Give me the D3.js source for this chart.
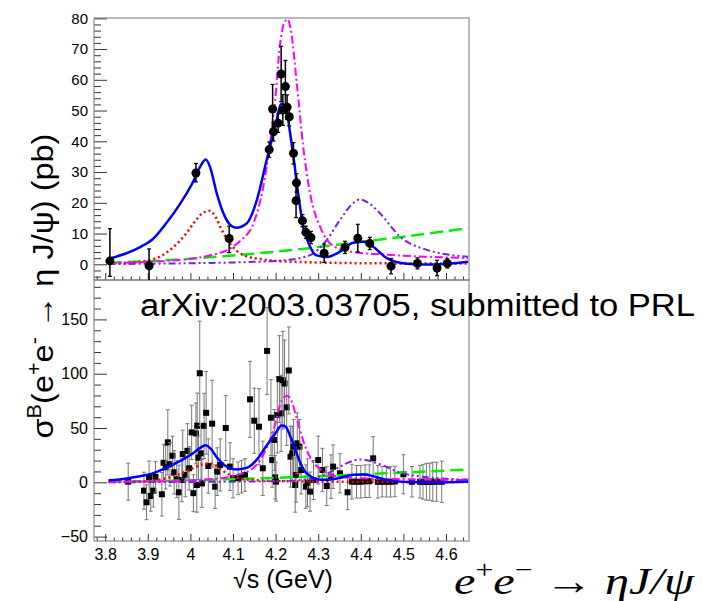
<!DOCTYPE html>
<html>
<head>
<meta charset="utf-8">
<script src="https://cdn.jsdelivr.net/npm/d3@7"></script>
<style>
body { margin: 0; background: #fff; }
text { font-family: "Liberation Sans", Arial, Helvetica, sans-serif; fill: #000; }
</style>
</head>
<body>
<script>
// Top panel: high-luminosity points [sqrt(s), sigma, errLow, errHigh]
const topPoints = [
[3.811, 1.1, 5.0, 10.5], [3.903, -0.5, 5.8, 5.5], [4.013, 29.7, 2.9, 3.1], [4.091, 8.4, 4.6, 4.0],
[4.185, 37.3, 2.5, 2.5], [4.193, 50.5, 8.0, 8.0], [4.195, 43.1, 3.0, 3.0], [4.206, 45.9, 3.0, 3.0],
[4.213, 61.9, 9.0, 9.0], [4.217, 50.2, 5.0, 5.0], [4.223, 57.8, 8.5, 8.5], [4.227, 51.1, 4.0, 4.0],
[4.232, 48.0, 3.0, 3.0], [4.242, 36.1, 3.5, 3.5], [4.249, 26.5, 3.0, 3.0], [4.248, 20.7, 5.5, 5.5],
[4.263, 14.2, 2.0, 2.0], [4.271, 10.4, 2.0, 2.0], [4.283, 8.7, 2.0, 2.0], [4.314, 3.6, 3.0, 3.0],
[4.363, 5.5, 2.0, 2.0], [4.393, 8.5, 4.5, 4.5], [4.421, 6.8, 2.0, 2.0], [4.471, -0.6, 2.5, 2.5],
[4.533, 0.3, 1.8, 1.8], [4.579, -1.2, 2.5, 2.5], [4.603, 0.3, 1.5, 1.5]
];

// Bottom panel: scan points [sqrt(s), sigma, err]
const scanPoints = [
[3.854, 0.6, 17], [3.891, -7.7, 17], [3.897, -18.4, 16], [3.903, 4.6, 15], [3.907, -12.6, 14],
[3.913, -7.7, 15], [3.918, 5.0, 14], [3.933, -11.0, 20], [3.937, 18.0, 17], [3.942, 13.8, 20],
[3.947, 36.8, 30], [3.952, 16.6, 20], [3.958, 24.5, 18], [3.962, 9.2, 20], [3.968, 2.8, 17],
[3.973, -9.2, 25], [3.980, 2.1, 20], [3.982, 26.0, 22], [3.988, 6.7, 20], [3.993, 29.0, 25],
[3.997, 12.9, 20], [4.003, 46.0, 25], [4.007, -10.0, 17], [4.013, 45.0, 28], [4.015, -2.5, 25],
[4.016, 52.1, 30], [4.019, 22.7, 20], [4.022, 100.4, 48], [4.025, 26.7, 25], [4.027, -1.0, 22],
[4.032, 52.0, 30], [4.037, 64.0, 38], [4.042, 15.0, 25], [4.051, 54.0, 40], [4.058, -4.0, 20],
[4.063, 9.8, 22], [4.070, 16.0, 24], [4.083, 50.0, 30], [4.093, 14.4, 22], [4.100, 3.7, 18],
[4.112, 3.7, 15], [4.120, 5.2, 15], [4.128, 6.7, 15], [4.140, 76.4, 35], [4.150, 56.7, 30],
[4.161, 51.2, 35], [4.170, 12.9, 25], [4.180, 121.0, 40], [4.189, 59.5, 35], [4.192, 20.5, 25],
[4.197, 39.0, 28], [4.199, 4.6, 20], [4.201, 0.6, 18], [4.204, 62.0, 35], [4.209, 95.0, 40],
[4.213, 63.5, 35], [4.217, 94.0, 45], [4.221, 91.0, 40], [4.226, 69.0, 35], [4.231, 103.0, 40],
[4.235, 23.6, 28], [4.239, 26.7, 25], [4.242, 32.8, 25], [4.246, -2.5, 25], [4.248, 6.7, 25],
[4.251, 35.9, 28], [4.256, 32.8, 25], [4.260, 11.3, 22], [4.271, -4.0, 20], [4.275, -0.4, 22],
[4.281, -8.6, 18], [4.289, 2.1, 18], [4.300, 20.5, 22], [4.310, 11.3, 20], [4.320, -3.4, 18],
[4.330, 5.2, 20], [4.335, 14.4, 20], [4.351, 8.3, 18], [4.369, -9.2, 16], [4.379, 0.6, 16],
[4.390, 0.5, 15], [4.400, 0.5, 15], [4.410, 1.0, 15], [4.420, 1.0, 15], [4.429, 22.1, 20],
[4.440, 0.5, 15], [4.450, 0.5, 14], [4.460, 0.5, 14], [4.470, 0.5, 14], [4.480, 0.8, 14],
[4.500, 7.4, 18], [4.520, 0.5, 14], [4.539, 0.5, 15], [4.546, 0.5, 16], [4.554, 0.5, 17],
[4.562, 0.5, 17], [4.569, 0.5, 18], [4.578, 0.5, 18], [4.590, 0.5, 19]
];

// Fit curves [sqrt(s), sigma]
const totalFit = [
[3.808, 1.8], [3.850, 3.6], [3.882, 5.6], [3.910, 8.0], [3.944, 13.5], [3.975, 19.5], [4.007, 27.0],
[4.022, 31.5], [4.036, 34.1], [4.046, 31.7], [4.062, 23.0], [4.081, 15.5], [4.095, 12.6], [4.107, 11.9],
[4.132, 13.3], [4.156, 20.9], [4.179, 33.9], [4.199, 44.7], [4.214, 52.2], [4.224, 51.0], [4.234, 42.7],
[4.243, 33.9], [4.253, 23.0], [4.265, 12.2], [4.281, 5.7], [4.296, 2.9], [4.320, 2.4], [4.351, 4.1],
[4.382, 7.0], [4.406, 7.3], [4.429, 5.7], [4.461, 2.0], [4.508, 0.2], [4.570, -0.1], [4.652, 0.8]
];
const bw4040 = [
[3.808, 0.3], [3.850, 0.5], [3.900, 1.2], [3.930, 2.6], [3.960, 5.6], [3.990, 10.0], [4.010, 13.8],
[4.030, 16.8], [4.046, 17.4], [4.060, 15.2], [4.070, 12.2], [4.093, 6.8], [4.124, 3.0], [4.160, 1.8],
[4.200, 1.1], [4.257, 0.75], [4.350, 0.45], [4.500, 0.3], [4.652, 0.3]
];
const bw4220 = [
[3.808, 0.3], [3.900, 0.8], [4.000, 1.8], [4.050, 3.0], [4.085, 4.5], [4.116, 7.5], [4.148, 13.3],
[4.171, 25.2], [4.187, 39.4], [4.199, 53.4], [4.210, 71.0], [4.220, 78.5], [4.228, 79.7], [4.236, 76.0],
[4.250, 58.5], [4.265, 38.0], [4.281, 23.0], [4.305, 12.0], [4.335, 6.0], [4.375, 4.2], [4.450, 3.2],
[4.550, 2.5], [4.652, 2.0]
];
const bw4400 = [
[3.808, 0.1], [4.020, 0.4], [4.150, 0.8], [4.220, 1.3], [4.281, 3.0], [4.320, 7.9], [4.351, 14.4],
[4.380, 19.6], [4.398, 21.1], [4.420, 19.8], [4.445, 16.6], [4.492, 9.0], [4.555, 4.7], [4.652, 2.5]
];
const nonRes = [
[3.808, 0.5], [3.900, 1.0], [4.000, 1.8], [4.100, 2.9], [4.200, 4.1], [4.300, 5.6], [4.400, 7.3],
[4.500, 9.0], [4.600, 10.8], [4.652, 11.8]
];

const xTicks = [3.8, 3.9, 4.0, 4.1, 4.2, 4.3, 4.4, 4.5, 4.6];
const yTopTicks = [0, 10, 20, 30, 40, 50, 60, 70, 80];
const yBotTicks = [-50, 0, 50, 100, 150];

const width = 703, height = 601;
const left = 94, right = 469;

const svg = d3.select("body").append("svg")
  .attr("width", width)
  .attr("height", height);

const x = d3.scaleLinear().domain([3.7737, 4.654]).range([left, right]);
const yTop = d3.scaleLinear().domain([-5.1, 80.1]).range([280, 18]);
const yBot = d3.scaleLinear().domain([-54.05, 186.3]).range([541, 280]);

const defs = svg.append("defs");
defs.append("clipPath").attr("id", "clipTop")
  .append("rect").attr("x", left).attr("y", 18).attr("width", right - left).attr("height", 262);
defs.append("clipPath").attr("id", "clipBot")
  .append("rect").attr("x", left).attr("y", 280).attr("width", right - left).attr("height", 261);

// minor ticks: 5 subdivisions between majors
function minors(lo, hi, step) {
  const out = [];
  for (let i = Math.ceil(lo / step); i * step <= hi; i++) out.push(+(i * step).toFixed(4));
  return out;
}

function drawAxes(yScale, majors, minorStep, yDomain, bottomY, fontY, showXLabels) {
  const xMinor = minors(3.78, 4.65, 0.02).filter(v => Math.abs(v * 10 - Math.round(v * 10)) > 1e-6);
  svg.append("g")
    .attr("transform", "translate(0," + bottomY + ")")
    .call(d3.axisBottom(x).tickValues(xMinor).tickSize(-3.5).tickFormat(""))
    .call(g => g.select(".domain").remove());
  const gx = svg.append("g")
    .attr("transform", "translate(0," + bottomY + ")")
    .call(d3.axisBottom(x).tickValues(xTicks).tickSize(-7).tickPadding(7.5)
      .tickFormat(showXLabels ? d3.format("") : ""))
    .call(g => g.select(".domain").remove());
  gx.selectAll("text").attr("font-size", 16).attr("fill", "#000");

  const yMinor = minors(yDomain[0], yDomain[1], minorStep).filter(v => majors.indexOf(v) < 0);
  svg.append("g")
    .attr("transform", "translate(" + left + ",0)")
    .call(d3.axisLeft(yScale).tickValues(yMinor).tickSize(-7).tickFormat(""))
    .call(g => g.select(".domain").remove());
  const gy = svg.append("g")
    .attr("transform", "translate(" + left + ",0)")
    .call(d3.axisLeft(yScale).tickValues(majors).tickSize(-13).tickPadding(6))
    .call(g => g.select(".domain").remove());
  gy.selectAll("text").attr("font-size", fontY).attr("fill", "#000");
  svg.selectAll(".tick line").attr("stroke", "#333");
}

drawAxes(yTop, yTopTicks, 2, [-4, 80], 280, 15, false);
drawAxes(yBot, yBotTicks, 10, [-50, 180], 541, 16, true);

// frames
svg.append("rect").attr("x", left).attr("y", 18).attr("width", right - left).attr("height", 262)
  .attr("fill", "none").attr("stroke", "#777").attr("stroke-width", 1);
svg.append("rect").attr("x", left).attr("y", 280).attr("width", right - left).attr("height", 261)
  .attr("fill", "none").attr("stroke", "#777").attr("stroke-width", 1);

const curveStyles = [
  {data: nonRes, color: "#00ee00", width: 2.5, dash: "13,6"},
  {data: bw4040, color: "#ff0000", width: 2.5, dash: "2,3"},
  {data: bw4400, color: "#7a1fe0", width: 2, dash: "7,3,2,3,2,3"},
  {data: bw4220, color: "#ff00ff", width: 2, dash: "8,3,2,3"},
  {data: totalFit, color: "#0000ff", width: 2.5, dash: null}
];

function drawCurves(g, yScale) {
  const line = d3.line()
    .x(d => x(d[0]))
    .y(d => yScale(d[1]))
    .curve(d3.curveMonotoneX);
  curveStyles.forEach(c => {
    g.append("path")
      .attr("d", line(c.data))
      .attr("fill", "none")
      .attr("stroke", c.color)
      .attr("stroke-width", c.width)
      .attr("stroke-dasharray", c.dash);
  });
}

// bottom panel: points then curves
const gBot = svg.append("g").attr("clip-path", "url(#clipBot)");
const scan = gBot.selectAll("g.scan").data(scanPoints).enter().append("g").attr("class", "scan");
scan.append("line")
  .attr("x1", d => x(d[0])).attr("x2", d => x(d[0]))
  .attr("y1", d => yBot(d[1] - d[2])).attr("y2", d => yBot(d[1] + d[2]))
  .attr("stroke", "#777").attr("stroke-width", 1);
scan.append("line")
  .attr("x1", d => x(d[0]) - 2).attr("x2", d => x(d[0]) + 2)
  .attr("y1", d => yBot(d[1] + d[2])).attr("y2", d => yBot(d[1] + d[2]))
  .attr("stroke", "#777").attr("stroke-width", 1);
scan.append("line")
  .attr("x1", d => x(d[0]) - 2).attr("x2", d => x(d[0]) + 2)
  .attr("y1", d => yBot(d[1] - d[2])).attr("y2", d => yBot(d[1] - d[2]))
  .attr("stroke", "#777").attr("stroke-width", 1);
scan.append("rect")
  .attr("x", d => x(d[0]) - 3).attr("y", d => yBot(d[1]) - 3)
  .attr("width", 6).attr("height", 6)
  .attr("fill", "#000");
drawCurves(gBot, yBot);

// top panel: curves then points
const gTop = svg.append("g").attr("clip-path", "url(#clipTop)");
drawCurves(gTop, yTop);
const pts = gTop.selectAll("g.pt").data(topPoints).enter().append("g").attr("class", "pt");
pts.append("line")
  .attr("x1", d => x(d[0])).attr("x2", d => x(d[0]))
  .attr("y1", d => yTop(d[1] - d[2])).attr("y2", d => yTop(d[1] + d[3]))
  .attr("stroke", "#000").attr("stroke-width", 1.5);
pts.append("line")
  .attr("x1", d => x(d[0]) - 2).attr("x2", d => x(d[0]) + 2)
  .attr("y1", d => yTop(d[1] + d[3])).attr("y2", d => yTop(d[1] + d[3]))
  .attr("stroke", "#000").attr("stroke-width", 1.2);
pts.append("line")
  .attr("x1", d => x(d[0]) - 2).attr("x2", d => x(d[0]) + 2)
  .attr("y1", d => yTop(d[1] - d[2])).attr("y2", d => yTop(d[1] - d[2]))
  .attr("stroke", "#000").attr("stroke-width", 1.2);
pts.append("circle")
  .attr("cx", d => x(d[0])).attr("cy", d => yTop(d[1]))
  .attr("r", 4.5)
  .attr("fill", "#000");

// stretch a text along its baseline so it spans the wanted length
function fitTo(sel, target, base) {
  const w = sel.node().getComputedTextLength();
  sel.attr("transform", base + " scale(" + (target / w) + ",1)");
}

// y title
const yTitle = svg.append("text")
  .attr("text-anchor", "middle")
  .attr("font-size", 30);
yTitle.append("tspan").text("σ");
yTitle.append("tspan").attr("font-size", 20).attr("dy", -12).text("B");
yTitle.append("tspan").attr("dy", 12).text("(e");
yTitle.append("tspan").attr("font-size", 20).attr("dy", -12).text("+");
yTitle.append("tspan").attr("dy", 12).text("e");
yTitle.append("tspan").attr("font-size", 20).attr("dy", -12).text("-");
yTitle.append("tspan").attr("dy", 12).text(" → η J/ψ) (pb)");
fitTo(yTitle, 305, "translate(53,286) rotate(-90)");

// x title
svg.append("text")
  .attr("x", 283).attr("y", 588)
  .attr("text-anchor", "middle")
  .attr("font-size", 25)
  .text("√s (GeV)");

// annotation
svg.append("text")
  .attr("x", 140).attr("y", 316)
  .attr("font-size", 31)
  .attr("textLength", 555)
  .attr("lengthAdjust", "spacingAndGlyphs")
  .text("arXiv:2003.03705, submitted to PRL");

// reaction label
const react = svg.append("text")
  .attr("font-size", 38)
  .style("font-family", "'Liberation Serif', 'Times New Roman', serif");
react.append("tspan").attr("font-style", "italic").text("e");
react.append("tspan").attr("font-size", 25).attr("dy", -16).text("+");
react.append("tspan").attr("dy", 16).attr("font-style", "italic").text("e");
react.append("tspan").attr("font-size", 25).attr("dy", -16).text("−");
react.append("tspan").attr("dy", 16).text(" → ");
react.append("tspan").attr("font-style", "italic").text("ηJ/ψ");
fitTo(react, 240, "translate(454,594)");
</script>
</body>
</html>
